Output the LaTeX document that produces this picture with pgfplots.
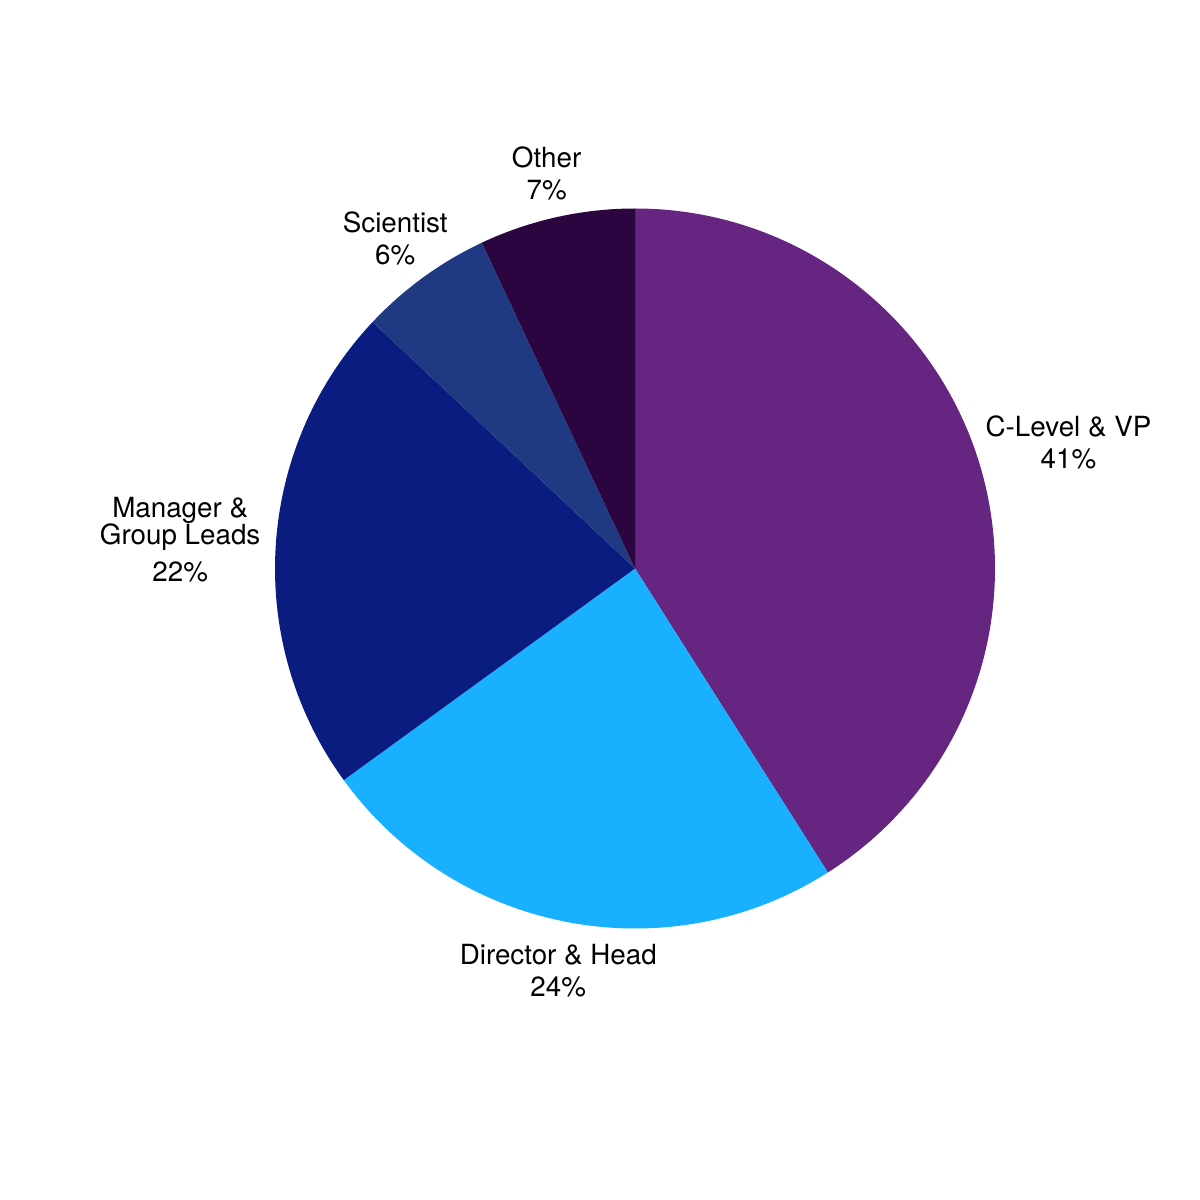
\documentclass[border=0pt]{standalone}
\usepackage{pgfplots}
\pgfplotsset{compat=1.18}
\usepackage{pgfplotstable}
\usepackage{fontspec}
\setmainfont{TeX Gyre Heros}

\definecolor{c0}{RGB}{101,37,128}
\definecolor{c1}{RGB}{25,176,255}
\definecolor{c2}{RGB}{10,28,128}
\definecolor{c3}{RGB}{31,58,130}
\definecolor{c4}{RGB}{43,5,64}

% share in percent, label distance in radii
\pgfplotstableread{
value dist
41 1.254
24 1.1375
22 1.266
6  1.133
7  1.1255
}\slices

\expandafter\def\csname lab0\endcsname{C-Level \& VP\\41\%}
\expandafter\def\csname lab1\endcsname{Director \& Head\\24\%}
\expandafter\def\csname lab2\endcsname{Manager \&\\[-1.4pt]Group Leads\\[1.6pt]22\%}
\expandafter\def\csname lab3\endcsname{Scientist\\6\%}
\expandafter\def\csname lab4\endcsname{Other\\7\%}

\begin{document}
\begin{tikzpicture}
% start/end angles, clockwise from 12 o'clock
\def\cum{0}
\pgfplotsforeachungrouped \i in {0,...,4}{%
  \pgfplotstablegetelem{\i}{value}\of\slices \let\v\pgfplotsretval
  \pgfplotstablegetelem{\i}{dist}\of\slices \let\d\pgfplotsretval
  \pgfmathsetmacro\sa{90-3.6*\cum}%
  \pgfmathsetmacro\cum{\cum+\v}%
  \pgfmathsetmacro\ea{90-3.6*\cum}%
  \pgfmathsetmacro\ma{(\sa+\ea)/2}%
  \pgfmathsetmacro\lr{3.60*\d}%
  \expandafter\xdef\csname sa\i\endcsname{\sa}%
  \expandafter\xdef\csname ea\i\endcsname{\ea}%
  \expandafter\xdef\csname ma\i\endcsname{\ma}%
  \expandafter\xdef\csname lr\i\endcsname{\lr}%
}
\begin{axis}[
  x = 1cm, y = 1cm,
  xmin = 0, xmax = 12,
  ymin = 0, ymax = 12,
  scale only axis,
  hide axis,
  clip = false,
]
\path (axis cs:0,0) rectangle (axis cs:12,12);
\pgfplotsinvokeforeach{0,...,4}{
  \fill[c#1] (axis cs:6.35,6.315) -- ++(\csname sa#1\endcsname:3.60cm)
    arc[start angle=\csname sa#1\endcsname, end angle=\csname ea#1\endcsname, radius=3.60cm] -- cycle;
  \node[align=center, font=\fontsize{7.9}{9.07}\selectfont, inner sep=0pt]
    at ([shift={(\csname ma#1\endcsname:\csname lr#1\endcsname cm)}]axis cs:6.35,6.315)
    {\csname lab#1\endcsname};
}
\end{axis}
\end{tikzpicture}
\end{document}
